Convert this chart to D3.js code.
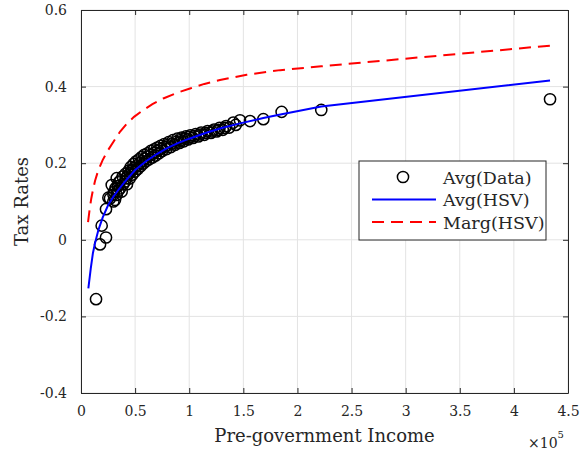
<!DOCTYPE html>
<html>
<head>
<meta charset="utf-8">
<script src="https://cdn.jsdelivr.net/npm/d3@7"></script>
<style>
  body { margin: 0; background: #fff; }
  text { font-family: "DejaVu Serif", serif; fill: #262626; }
</style>
</head>
<body>
<svg id="chart" width="587" height="455"></svg>
<script>
// scatter: average tax rate by pre-government income
const dataIncome = [
  13900, 17600, 19100, 23100, 23100, 25300, 26800, 28400, 29900, 30500,
  31400, 33000, 33000, 34000, 35000, 36000, 37600, 38500, 40700, 41000,
  42500, 44000, 45000, 46000, 47500, 48500, 50000, 51000, 52500, 53500,
  55000, 56000, 57500, 58500, 60000, 61500, 63000, 64500, 66000, 67500,
  69000, 70500, 72000, 73500, 75000, 77000, 79000, 81000, 83000, 85000,
  87000, 89000, 91000, 93000, 95000, 97000, 99000, 101000, 103500, 106000,
  108500, 111000, 114000, 117000, 120000, 123000, 125400, 128000, 131000, 134000,
  137000, 140700, 143000, 146900, 156200, 168500, 185400, 222000, 433400,
  30000, 32000, 34500, 36500, 39000, 41500, 43000, 45500, 47000, 49000,
  51500, 54000, 56500, 59000, 62000, 65000, 68000, 71000, 74000, 77500,
  80000, 84000, 88000, 92000, 96000, 100000, 105000, 110000, 115000, 121000,
  127000, 133000
];
const dataRate = [
  -0.155, -0.012, 0.037, 0.006, 0.080, 0.110, 0.108, 0.143, 0.100, 0.125,
  0.104, 0.117, 0.161, 0.140, 0.150, 0.134, 0.126, 0.165, 0.152, 0.172,
  0.145, 0.180, 0.160, 0.190, 0.170, 0.198, 0.178, 0.205, 0.185, 0.210,
  0.192, 0.216, 0.199, 0.222, 0.205, 0.226, 0.210, 0.232, 0.215, 0.236,
  0.220, 0.241, 0.226, 0.245, 0.232, 0.250, 0.237, 0.255, 0.242, 0.260,
  0.248, 0.264, 0.253, 0.267, 0.257, 0.270, 0.262, 0.273, 0.266, 0.276,
  0.270, 0.280, 0.274, 0.284, 0.279, 0.288, 0.283, 0.292, 0.287, 0.297,
  0.293, 0.306, 0.300, 0.312, 0.310, 0.315, 0.334, 0.339, 0.367,
  0.118, 0.135, 0.128, 0.155, 0.145, 0.160, 0.168, 0.175, 0.182, 0.188,
  0.192, 0.200, 0.205, 0.212, 0.218, 0.222, 0.228, 0.233, 0.238, 0.243,
  0.247, 0.251, 0.256, 0.260, 0.264, 0.268, 0.271, 0.275, 0.279, 0.283,
  0.287, 0.292
];

// fitted HSV curves
const avgIncome = [
  6800, 9000, 11000, 13000, 16000, 20000, 25000, 30000, 35000, 40000,
  50000, 60000, 70000, 80000, 90000, 100000, 115000, 130000, 147000, 168500,
  185400, 222000, 433400
];
const avgRate = [
  -0.127, -0.075, -0.035, -0.008, 0.025, 0.058, 0.090, 0.113, 0.132, 0.150,
  0.182, 0.205, 0.224, 0.240, 0.253, 0.264, 0.279, 0.292, 0.304, 0.318,
  0.328, 0.348, 0.416
];
const margIncome = [
  6500, 8000, 9500, 11400, 13000, 16000, 20000, 25000, 30000, 36000,
  42000, 49000, 57600, 66000, 76000, 88000, 100700, 114000, 128400, 153100,
  184000, 222000, 433400
];
const margRate = [
  0.046, 0.080, 0.108, 0.135, 0.154, 0.182, 0.208, 0.234, 0.256, 0.282,
  0.302, 0.321, 0.339, 0.354, 0.369, 0.383, 0.395, 0.407, 0.417, 0.431,
  0.443, 0.453, 0.507
];

const xTicks = [0, 50000, 100000, 150000, 200000, 250000, 300000, 350000, 400000, 450000];
const yTicks = [-0.4, -0.2, 0, 0.2, 0.4, 0.6];
const legendLabels = ["Avg(Data)", "Avg(HSV)", "Marg(HSV)"];

const plot = { left: 81, right: 568, top: 10, bottom: 393 };
const axisColor = "#262626";

const svg = d3.select("#chart");

const x = d3.scaleLinear().domain([0, 450000]).range([plot.left, plot.right]);
const y = d3.scaleLinear().domain([-0.4, 0.6]).range([plot.bottom, plot.top]);

// grid
svg.append("g")
  .selectAll("line")
  .data(xTicks)
  .enter()
  .append("line")
  .attr("x1", (d) => x(d))
  .attr("x2", (d) => x(d))
  .attr("y1", plot.top)
  .attr("y2", plot.bottom)
  .attr("stroke", "#e3e3e3");

svg.append("g")
  .selectAll("line")
  .data(yTicks)
  .enter()
  .append("line")
  .attr("x1", plot.left)
  .attr("x2", plot.right)
  .attr("y1", (d) => y(d))
  .attr("y2", (d) => y(d))
  .attr("stroke", "#e3e3e3");

// axes with inward ticks on all four sides
const fmtX = (d) => String(d / 100000);
const fmtY = (d) => String(d).replace("−", "-");

const styleAxis = (g) => {
  g.select(".domain").attr("stroke", axisColor);
  g.selectAll(".tick line").attr("stroke", axisColor);
  g.selectAll("text").style("font-size", "14px").attr("fill", axisColor);
};

svg.append("g")
  .attr("transform", `translate(0,${plot.bottom})`)
  .call(d3.axisBottom(x).tickValues(xTicks).tickFormat(fmtX).tickSizeInner(-5).tickSizeOuter(0).tickPadding(13))
  .call(styleAxis);

svg.append("g")
  .attr("transform", `translate(0,${plot.top})`)
  .call(d3.axisTop(x).tickValues(xTicks).tickFormat("").tickSizeInner(-5).tickSizeOuter(0))
  .call(styleAxis);

svg.append("g")
  .attr("transform", `translate(${plot.left},0)`)
  .call(d3.axisLeft(y).tickValues(yTicks).tickFormat(fmtY).tickSizeInner(-5).tickSizeOuter(0).tickPadding(14))
  .call(styleAxis);

svg.append("g")
  .attr("transform", `translate(${plot.right},0)`)
  .call(d3.axisRight(y).tickValues(yTicks).tickFormat("").tickSizeInner(-5).tickSizeOuter(0))
  .call(styleAxis);

// data circles
svg.append("g")
  .selectAll("circle")
  .data(dataIncome)
  .enter()
  .append("circle")
  .attr("cx", (d) => x(d))
  .attr("cy", (d, i) => y(dataRate[i]))
  .attr("r", 5.6)
  .attr("fill", "none")
  .attr("stroke", "#000")
  .attr("stroke-width", 1.5);

const line = d3.line()
  .x((d) => x(d[0]))
  .y((d) => y(d[1]));

svg.append("path")
  .datum(d3.zip(avgIncome, avgRate))
  .attr("d", line)
  .attr("fill", "none")
  .attr("stroke", "#0000ff")
  .attr("stroke-width", 2);

svg.append("path")
  .datum(d3.zip(margIncome, margRate))
  .attr("d", line)
  .attr("fill", "none")
  .attr("stroke", "#ff0000")
  .attr("stroke-width", 2)
  .attr("stroke-dasharray", "12,7");

// axis labels
svg.append("text")
  .attr("x", (plot.left + plot.right) / 2)
  .attr("y", 442)
  .attr("text-anchor", "middle")
  .style("font-size", "18px")
  .text("Pre-government Income");

svg.append("text")
  .attr("transform", `translate(28,${(plot.top + plot.bottom) / 2}) rotate(-90)`)
  .attr("text-anchor", "middle")
  .style("font-size", "18px")
  .text("Tax Rates");

const expo = svg.append("text")
  .attr("x", 528)
  .attr("y", 448)
  .style("font-size", "14px");
expo.append("tspan").text("×10");
expo.append("tspan").attr("dy", -10).style("font-size", "10px").text("5");

// legend
const legend = svg.append("g").attr("transform", "translate(359,161)");

legend.append("rect")
  .attr("width", 187)
  .attr("height", 79)
  .attr("fill", "#fff")
  .attr("stroke", axisColor);

const rowY = [16, 38.5, 61];

legend.append("circle")
  .attr("cx", 44)
  .attr("cy", rowY[0])
  .attr("r", 5.6)
  .attr("fill", "none")
  .attr("stroke", "#000")
  .attr("stroke-width", 1.5);

legend.append("line")
  .attr("x1", 13).attr("x2", 77)
  .attr("y1", rowY[1]).attr("y2", rowY[1])
  .attr("stroke", "#0000ff")
  .attr("stroke-width", 2);

legend.append("line")
  .attr("x1", 13).attr("x2", 77)
  .attr("y1", rowY[2]).attr("y2", rowY[2])
  .attr("stroke", "#ff0000")
  .attr("stroke-width", 2)
  .attr("stroke-dasharray", "12,7");

legend.selectAll(".lab")
  .data(legendLabels)
  .enter()
  .append("text")
  .attr("x", 84)
  .attr("y", (d, i) => rowY[i] + 6.5)
  .style("font-size", "17.5px")
  .attr("fill", "#000")
  .text((d) => d);
</script>
</body>
</html>
